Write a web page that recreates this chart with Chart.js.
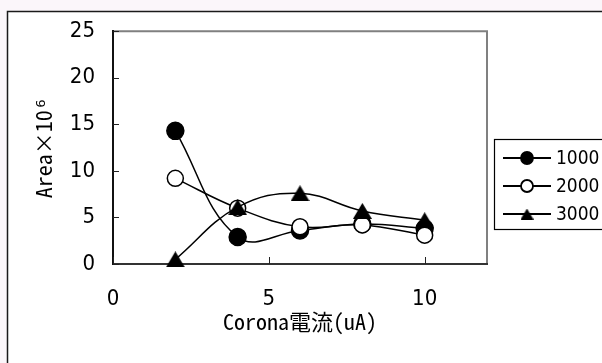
<!DOCTYPE html>
<html>
<head>
<meta charset="utf-8">
<script src="https://cdn.jsdelivr.net/npm/chart.js@4"></script>
<style>
  body { margin: 0; background: #fbf6fa; }
  #wrap { width: 602px; height: 363px; }
</style>
</head>
<body>
<div id="wrap"><canvas id="areaChart" width="602" height="363"></canvas></div>
<script>
// values
const currentUA = [2, 4, 6, 8, 10];
const area1000 = [14.3, 2.9, 3.6, 4.3, 3.8];
const area2000 = [9.2, 6.0, 4.0, 4.2, 3.1];
const area3000 = [0.5, 6.1, 7.6, 5.7, 4.7];
const seriesNames = ['1000', '2000', '3000'];
const xTickValues = [0, 5, 10];
const yTickValues = [0, 5, 10, 15, 20, 25];

const tickFont = { family: '"DejaVu Sans Condensed", "DejaVu Sans", sans-serif', size: 22 };
const titleFont = { family: '"Noto Sans Mono CJK JP", "DejaVu Sans Mono", "Noto Sans CJK JP", monospace', size: 22 };

function triangleImg(w, h) {
    const c = document.createElement('canvas');
    c.width = w;
    c.height = h;
    const g = c.getContext('2d');
    g.fillStyle = '#000';
    g.beginPath();
    g.moveTo(w / 2, 0);
    g.lineTo(w, h);
    g.lineTo(0, h);
    g.closePath();
    g.fill();
    return c;
}

const bigTriangle = triangleImg(19, 16);
const smallTriangle = triangleImg(13, 11);

function toPoints(values) {
    return currentUA.map((x, i) => ({ x: x, y: values[i] }));
}

const framePlugin = {
    id: 'frame',
    beforeDraw(chart) {
        const { ctx, width, height, chartArea } = chart;
        ctx.save();
        ctx.fillStyle = '#fbf6fa';
        ctx.fillRect(0, 0, width, height);
        ctx.fillStyle = '#ffffff';
        ctx.fillRect(7, 11, width, height);
        ctx.strokeStyle = '#1a1a1a';
        ctx.lineWidth = 1.5;
        ctx.strokeRect(7.5, 11.5, width + 20, height + 20);

        // grey top + right edge of the plot area
        ctx.strokeStyle = '#808080';
        ctx.lineWidth = 2;
        ctx.beginPath();
        ctx.moveTo(chartArea.left, chartArea.top);
        ctx.lineTo(chartArea.right, chartArea.top);
        ctx.lineTo(chartArea.right, chartArea.bottom);
        ctx.stroke();
        ctx.restore();
    },
    beforeDatasetsDraw(chart) {
        // tick marks point inside the plot
        const { ctx, chartArea, scales } = chart;
        ctx.save();
        ctx.strokeStyle = '#222';
        ctx.lineWidth = 1;
        ctx.beginPath();
        scales.x.ticks.forEach(t => {
            const px = Math.round(scales.x.getPixelForValue(t.value)) + 0.5;
            ctx.moveTo(px, chartArea.bottom);
            ctx.lineTo(px, chartArea.bottom - 7);
        });
        scales.y.ticks.forEach(t => {
            const py = Math.round(scales.y.getPixelForValue(t.value)) + 0.5;
            ctx.moveTo(chartArea.left, py);
            ctx.lineTo(chartArea.left + 6, py);
        });
        ctx.stroke();
        ctx.restore();
    },
    afterDraw(chart) {
        const ctx = chart.ctx;
        const rows = [158, 186, 214];
        ctx.save();
        ctx.strokeStyle = '#000';
        ctx.lineWidth = 1.2;
        ctx.strokeRect(494.5, 139.5, 140, 90);
        ctx.font = '19px "DejaVu Sans Condensed", "DejaVu Sans", sans-serif';
        ctx.textBaseline = 'middle';
        ctx.fillStyle = '#000';
        chart.data.datasets.forEach((ds, i) => {
            const y = rows[i];
            ctx.lineWidth = 1.8;
            ctx.beginPath();
            ctx.moveTo(503, y);
            ctx.lineTo(551, y);
            ctx.stroke();
            if (ds.pointStyle === bigTriangle) {
                ctx.drawImage(smallTriangle, 527 - 6.5, y - 5.5);
            } else {
                ctx.beginPath();
                ctx.arc(527, y, 6, 0, Math.PI * 2);
                ctx.fillStyle = ds.pointBackgroundColor;
                ctx.fill();
                ctx.stroke();
                ctx.fillStyle = '#000';
            }
            ctx.fillText(ds.label, 556, y + 1);
        });
        ctx.restore();
    }
};

const lineStyle = {
    borderColor: '#000',
    borderWidth: 1.5,
    pointBorderColor: '#000',
    pointBorderWidth: 1.5,
    tension: 0.4,
    fill: false,
    clip: false
};

new Chart(document.getElementById('areaChart'), {
    type: 'line',
    data: {
        datasets: [
            {
                ...lineStyle,
                label: seriesNames[0],
                data: toPoints(area1000),
                pointStyle: 'circle',
                pointRadius: 8.5,
                pointBackgroundColor: '#000',
                order: 3
            },
            {
                ...lineStyle,
                label: seriesNames[1],
                data: toPoints(area2000),
                pointStyle: 'circle',
                pointRadius: 8,
                pointBackgroundColor: '#fff',
                order: 2
            },
            {
                ...lineStyle,
                label: seriesNames[2],
                data: toPoints(area3000),
                pointStyle: bigTriangle,
                pointRadius: 9,
                pointBackgroundColor: '#000',
                order: 1
            }
        ]
    },
    options: {
        responsive: false,
        animation: false,
        events: [],
        layout: { padding: { left: 0, top: 29, right: 115, bottom: 0 } },
        plugins: {
            legend: { display: false },
            tooltip: { enabled: false }
        },
        scales: {
            x: {
                type: 'linear',
                min: 0,
                max: 12,
                afterBuildTicks: s => { s.ticks = xTickValues.map(v => ({ value: v })); },
                afterFit: s => { s.height = 99; },
                grid: { display: false, drawTicks: false },
                border: { display: true, color: '#333', width: 2 },
                ticks: { font: tickFont, color: '#000', padding: 22, maxRotation: 0, autoSkip: false },
                title: {
                    display: true,
                    text: 'Corona電流(uA)',
                    font: titleFont,
                    color: '#000',
                    padding: { top: 0, bottom: 28 }
                }
            },
            y: {
                min: 0,
                max: 25,
                afterBuildTicks: s => { s.ticks = yTickValues.map(v => ({ value: v })); },
                afterFit: s => { s.width = 113; },
                grid: { display: false, drawTicks: false },
                border: { display: true, color: '#111', width: 2 },
                ticks: { font: tickFont, color: '#000', padding: 18, autoSkip: false },
                title: {
                    display: true,
                    text: 'Area×10⁶',
                    font: titleFont,
                    color: '#000',
                    padding: { top: 30, bottom: 0 }
                }
            }
        }
    },
    plugins: [framePlugin]
});
</script>
</body>
</html>
